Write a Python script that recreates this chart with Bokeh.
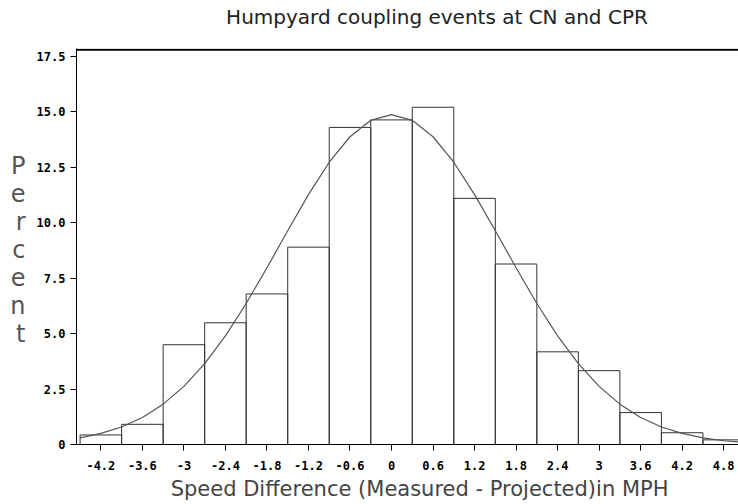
from bokeh.plotting import figure
from bokeh.models import FixedTicker, Span, LinearAxis
from bokeh.embed import file_html
from bokeh.resources import INLINE

# ---- data ----
bin_centers = [-4.2, -3.6, -3.0, -2.4, -1.8, -1.2, -0.6, 0.0, 0.6, 1.2, 1.8, 2.4, 3.0, 3.6, 4.2, 4.8]
percent = [0.43, 0.91, 4.50, 5.49, 6.79, 8.90, 14.30, 14.64, 15.21, 11.10, 8.14, 4.18, 3.33, 1.44, 0.53, 0.21]
x_tick_labels = ["-4.2", "-3.6", "-3", "-2.4", "-1.8", "-1.2", "-0.6", "0",
                 "0.6", "1.2", "1.8", "2.4", "3", "3.6", "4.2", "4.8"]
y_ticks = [0, 2.5, 5.0, 7.5, 10.0, 12.5, 15.0, 17.5]
y_tick_labels = ["0", "2.5", "5.0", "7.5", "10.0", "12.5", "15.0", "17.5"]

# fitted normal curve
curve_x = [-4.5, -4.2, -3.9, -3.6, -3.3, -3.0, -2.7, -2.4, -2.1, -1.8, -1.5, -1.2, -0.9, -0.6, -0.3,
           0.0, 0.3, 0.6, 0.9, 1.2, 1.5, 1.8, 2.1, 2.4, 2.7, 3.0, 3.3, 3.6, 3.9, 4.2, 4.5, 4.8, 5.1]
curve_y = [0.30, 0.50, 0.79, 1.22, 1.82, 2.62, 3.65, 4.90, 6.36, 7.97, 9.64, 11.27, 12.73, 13.88, 14.62,
           14.88, 14.62, 13.88, 12.73, 11.27, 9.64, 7.97, 6.36, 4.90, 3.65, 2.62, 1.82, 1.22, 0.79, 0.50,
           0.30, 0.17, 0.10]

title_text = "Humpyard coupling events at CN and CPR"
x_label = "Speed Difference (Measured - Projected)in MPH"
y_label = "P\ne\nr\nc\ne\nn\nt"

bin_width = 0.6
lefts = [c - bin_width / 2 for c in bin_centers]
rights = [c + bin_width / 2 for c in bin_centers]

p = figure(width=738, height=504, output_backend="svg", toolbar_location=None,
           x_range=(-4.552, 5.014), y_range=(0, 17.86),
           min_border_left=76, min_border_right=0, min_border_top=48, min_border_bottom=60)
p.outline_line_color = None
p.xgrid.visible = False
p.ygrid.visible = False
p.background_fill_color = "white"
p.border_fill_color = "white"

p.quad(left=lefts, right=rights, bottom=0, top=percent,
       fill_color=None, line_color="#333333", line_width=1)
p.line(curve_x, curve_y, line_color="#555555", line_width=1.2)

p.add_layout(Span(location=17.8, dimension="width", line_color="black", line_width=2))

for ax in (p.xaxis[0], p.yaxis[0]):
    ax.axis_line_color = "black"
    ax.axis_line_width = 1
    ax.major_tick_line_color = "black"
    ax.major_tick_out = 6
    ax.major_tick_in = 0
    ax.minor_tick_line_color = None
    ax.major_label_text_font = "DejaVu Sans Mono"
    ax.major_label_text_font_style = "bold"
    ax.major_label_text_font_size = "12px"
    ax.major_label_text_color = "black"

p.xaxis[0].ticker = FixedTicker(ticks=bin_centers)
p.xaxis[0].major_label_overrides = {c: l for c, l in zip(bin_centers, x_tick_labels)}
p.xaxis[0].major_label_standoff = 10
p.yaxis[0].ticker = FixedTicker(ticks=y_ticks)
p.yaxis[0].major_label_overrides = {t: l for t, l in zip(y_ticks, y_tick_labels)}
p.yaxis[0].major_label_standoff = 5


def text_axis(pos, text, standoff, size, color, line_height=1.2):
    ax = LinearAxis(ticker=FixedTicker(ticks=[pos]), major_label_overrides={pos: text})
    ax.axis_line_color = None
    ax.major_tick_line_color = None
    ax.major_tick_out = 0
    ax.major_tick_in = 0
    ax.minor_tick_line_color = None
    ax.major_label_standoff = standoff
    ax.major_label_text_font = "DejaVu Sans"
    ax.major_label_text_font_style = "normal"
    ax.major_label_text_font_size = size
    ax.major_label_text_color = color
    ax.major_label_text_line_height = line_height
    return ax


# stacked vertical "Percent" label (outer left)
p.add_layout(text_axis(8.77, y_label, 8, "24px", "#555555", 1.0), "left")
# x-axis label (outer below)
p.add_layout(text_axis(0.405, x_label, 4, "21px", "#444444"), "below")
# main title (above the frame)
p.add_layout(text_axis(0.657, title_text, 20, "20px", "#222222", 0.9), "above")

open("out.html", "w").write(file_html(p, INLINE))
